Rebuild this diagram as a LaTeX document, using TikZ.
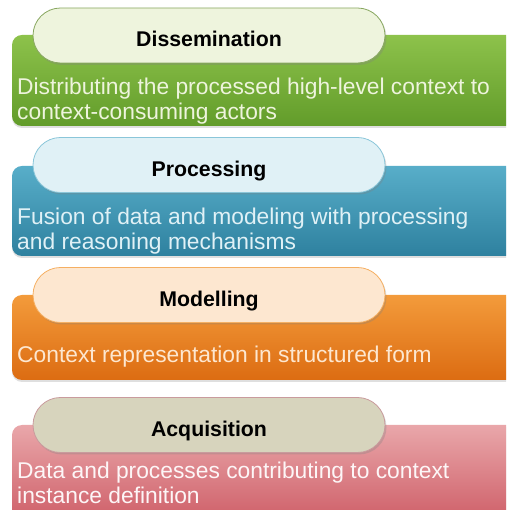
\documentclass[tikz,border=0pt]{standalone}
\usepackage{fontspec}
\setmainfont{Liberation Sans}
\usetikzlibrary{shadows}
\definecolor{dissemTop}{HTML}{8DC24B}
\definecolor{dissemBot}{HTML}{629C2A}
\definecolor{dissemPill}{HTML}{EEF4DD}
\definecolor{procTop}{HTML}{58AEC9}
\definecolor{procBot}{HTML}{2E819F}
\definecolor{procPill}{HTML}{E0F1F6}
\definecolor{modelTop}{HTML}{F39B3B}
\definecolor{modelBot}{HTML}{DC6C12}
\definecolor{modelPill}{HTML}{FDE7D0}
\definecolor{acqTop}{HTML}{E9A7AA}
\definecolor{acqBot}{HTML}{CC5862}
\definecolor{acqPill}{HTML}{D7D4BD}
\tikzset{band/.style={rounded corners=10pt,
		drop shadow={opacity=0.25,shadow xshift=0pt,shadow yshift=-2pt}}}
\tikzset{stage/.style={rectangle,rounded corners=27.5pt,draw=#1,line width=0.8pt,
		minimum width=352pt,minimum height=55pt,
		font=\bfseries\fontsize{21.3}{25}\selectfont,text height=23pt,text depth=0pt,
		drop shadow={opacity=0.3,shadow xshift=1.5pt,shadow yshift=-2pt}}}
\tikzset{about/.style={anchor=base west,align=left,inner sep=0pt,
		font=\fontsize{22.8}{25}\selectfont}}

\begin{document}
\begin{tikzpicture}[x=1pt,y=1pt]
	\useasboundingbox (0,0) rectangle (506,510);
	\clip (0,0) rectangle (506,510);
	% dissemination
	\shade[band,top color=dissemTop,bottom color=dissemBot] (12,384) rectangle (530,475);
	\node[stage=dissemTop!60!gray,fill=dissemPill] (dissem) at (209,474.5) {Dissemination};
	\node[about,text=dissemPill] (dissemtxt) at (17,390)
		{Distributing the processed high-level context to\\context-consuming actors};
	% processing
	\shade[band,top color=procTop,bottom color=procBot] (12,254) rectangle (530,344);
	\node[stage=procTop!70!white,fill=procPill] (proc) at (209,345) {Processing};
	\node[about,text=procPill] (proctxt) at (17,260)
		{Fusion of data and modeling with processing\\and reasoning mechanisms};
	% modelling
	\shade[band,top color=modelTop,bottom color=modelBot] (12,130) rectangle (530,215);
	\node[stage=modelTop!80!white,fill=modelPill] (model) at (209,215) {Modelling};
	\node[about,text=modelPill] (modeltxt) at (17,147)
		{Context representation in structured form};
	% acquisition
	\shade[band,top color=acqTop,bottom color=acqBot] (12,-20) rectangle (530,85);
	\node[stage=acqTop!70!gray,fill=acqPill] (acq) at (209,85) {Acquisition};
	\node[about,text=white!90!acqTop] (acqtxt) at (17,6)
		{Data and processes contributing to context\\instance definition};
\end{tikzpicture}
\end{document}
